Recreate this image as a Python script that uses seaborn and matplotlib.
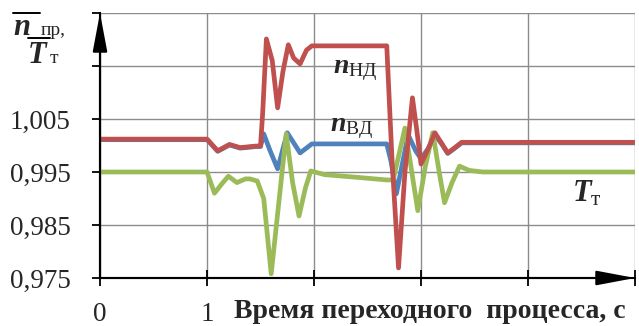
import matplotlib
matplotlib.use("Agg")
import matplotlib.pyplot as plt
from matplotlib.lines import Line2D
import seaborn as sns

# ---- data ----
t_nd = [0.0, 1.0, 1.01, 1.10, 1.21, 1.31, 1.46, 1.50, 1.52, 1.555, 1.61, 1.66, 1.71, 1.76, 1.81, 1.87,
        1.93, 1.98, 2.68, 2.73, 2.79, 2.85, 2.92, 2.96, 3.00, 3.07, 3.13, 3.19, 3.25, 3.31, 3.38, 5.0]
n_nd = [1.0012, 1.0012, 1.0010, 0.9990, 1.0002, 0.9996, 0.9999, 0.9999, 1.0060, 1.0201, 1.0160, 1.0071,
        1.0140, 1.0190, 1.0165, 1.0154, 1.0180, 1.0188, 1.0188, 0.9970, 0.9769, 0.9950, 1.0090, 1.0030,
        0.9965, 0.9995, 1.0024, 1.0005, 0.9986, 0.9995, 1.0006, 1.0006]

t_vd = [0.0, 1.0, 1.01, 1.10, 1.21, 1.31, 1.46, 1.50, 1.53, 1.59, 1.66, 1.75, 1.87, 1.98, 2.68, 2.72,
        2.77, 2.82, 2.88, 2.95, 3.00, 3.07, 3.13, 3.19, 3.25, 3.31, 3.38, 5.0]
n_vd = [1.0011, 1.0011, 1.0009, 0.9989, 1.0001, 0.9995, 0.9998, 0.9998, 1.0022, 0.9990, 0.9956, 1.0024,
        0.9986, 1.0003, 1.0003, 0.9970, 0.9909, 0.9960, 1.0020, 0.9990, 0.9975, 0.9995, 1.0020, 1.0004,
        0.9985, 0.9994, 1.0005, 1.0005]

t_tt = [0.0, 1.0, 1.07, 1.14, 1.20, 1.28, 1.36, 1.40, 1.47, 1.53, 1.60, 1.67, 1.74, 1.80, 1.86, 1.92,
        1.97, 2.10, 2.40, 2.68, 2.74, 2.85, 2.97, 3.04, 3.11, 3.17, 3.22, 3.29, 3.36, 3.45, 3.58, 5.0]
t_val = [0.9950, 0.9950, 0.9910, 0.9928, 0.9942, 0.9930, 0.9937, 0.9937, 0.9933, 0.9900, 0.9758, 0.9890,
         1.0022, 0.9930, 0.9867, 0.9920, 0.9952, 0.9945, 0.9940, 0.9935, 0.9935, 1.0033, 0.9877, 0.9960,
         1.0024, 0.9950, 0.9892, 0.9930, 0.9961, 0.9953, 0.9950, 0.9950]

y_ticks = [0.975, 0.985, 0.995, 1.005, 1.015, 1.025]
y_tick_labels = ["0,975", "0,985", "0,995", "1,005", "", ""]
x_ticks = [0, 1, 2, 3, 4, 5]
x_tick_labels = ["0", "1", "", "", "", ""]

x_label = "Время переходного  процесса, с"

c_red = "#c0504d"
c_blue = "#4f81bd"
c_green = "#9bbb59"

# ---- styling ----
sns.set_theme(style="white")
plt.rcParams["font.family"] = ["Liberation Serif", "DejaVu Serif"]
plt.rcParams["mathtext.fontset"] = "custom"
plt.rcParams["mathtext.rm"] = "Liberation Serif"
plt.rcParams["mathtext.it"] = "Liberation Serif:italic"
plt.rcParams["mathtext.bf"] = "Liberation Serif:bold"
plt.rcParams["mathtext.bfit"] = "Liberation Serif:italic:bold"

fig = plt.figure(figsize=(6.39, 3.26), dpi=100)
ax = fig.add_axes([100 / 639, 1 - 278 / 326, 535 / 639, (278 - 13) / 326])

lw = 3.4
sns.lineplot(x=t_vd, y=n_vd, ax=ax, color=c_blue, lw=lw, sort=False, estimator=None)
sns.lineplot(x=t_tt, y=t_val, ax=ax, color=c_green, lw=lw, sort=False, estimator=None)
sns.lineplot(x=t_nd, y=n_nd, ax=ax, color=c_red, lw=lw, sort=False, estimator=None)

ax.set_xlim(0, 5)
ax.set_ylim(0.975, 1.025)
ax.set_yticks(y_ticks)
ax.set_yticklabels(y_tick_labels)
ax.set_xticks(x_ticks)
ax.set_xticklabels(x_tick_labels)
ax.grid(True, color="#8c8c8c", lw=1.0)
ax.set_axisbelow(True)

for s in ["top", "right"]:
    ax.spines[s].set_visible(False)
for s in ["left", "bottom"]:
    ax.spines[s].set_color("black")
    ax.spines[s].set_linewidth(1.5)

ax.tick_params(axis="y", direction="out", length=6, width=1.3, color="black",
               labelsize=19.5, pad=15, left=True)
ax.tick_params(axis="x", direction="inout", length=12, width=1.3, color="black",
               labelsize=19.5, pad=11, bottom=True)

ax.set_xlabel(x_label, fontsize=20, fontweight="bold", ha="left")
ax.xaxis.set_label_coords((234 - 100) / 535, -0.08)
ax.xaxis.label.set_va("top")

# axis arrows
arrow_kw = dict(arrowstyle="-|>,head_length=1.7,head_width=0.32", lw=1.5,
                color="black", mutation_scale=14, shrinkA=0, shrinkB=0)
ax.annotate("", xy=(0, 1.0), xytext=(0, 0), xycoords="axes fraction", arrowprops=arrow_kw)
ax.annotate("", xy=(1.0, 0), xytext=(0, 0), xycoords="axes fraction", arrowprops=arrow_kw)

# series labels
ax.text(2.18, 1.0137, r"$\mathbfit{n}_{\mathrm{НД}}$", fontsize=20, va="baseline", ha="left")
ax.text(2.15, 1.0027, r"$\mathbfit{n}_{\mathrm{ВД}}$", fontsize=20, va="baseline", ha="left")
ax.text(4.41, 0.9895, r"$\mathbfit{T}_{\mathrm{т}}$", fontsize=22, va="baseline", ha="left")

# y-axis label (letter + subscript + overline)
H, W = 326.0, 639.0
fig.text(13 / W, 1 - 35 / H, r"$\mathbfit{n}$", fontsize=22, va="baseline", ha="left")
fig.text(41 / W, 1 - 35 / H, "пр,", fontsize=14, va="baseline", ha="left")
fig.text(27 / W, 1 - 63 / H, r"$\mathbfit{T}$", fontsize=22, va="baseline", ha="left")
fig.text(50 / W, 1 - 63 / H, "т", fontsize=14, va="baseline", ha="left")
fig.add_artist(Line2D([13 / W, 40 / W], [1 - 13 / H, 1 - 13 / H], color="black", lw=1.4,
                      transform=fig.transFigure))
fig.add_artist(Line2D([28 / W, 50 / W], [1 - 38 / H, 1 - 38 / H], color="black", lw=1.4,
                      transform=fig.transFigure))

fig.savefig("out.png", dpi=100)
